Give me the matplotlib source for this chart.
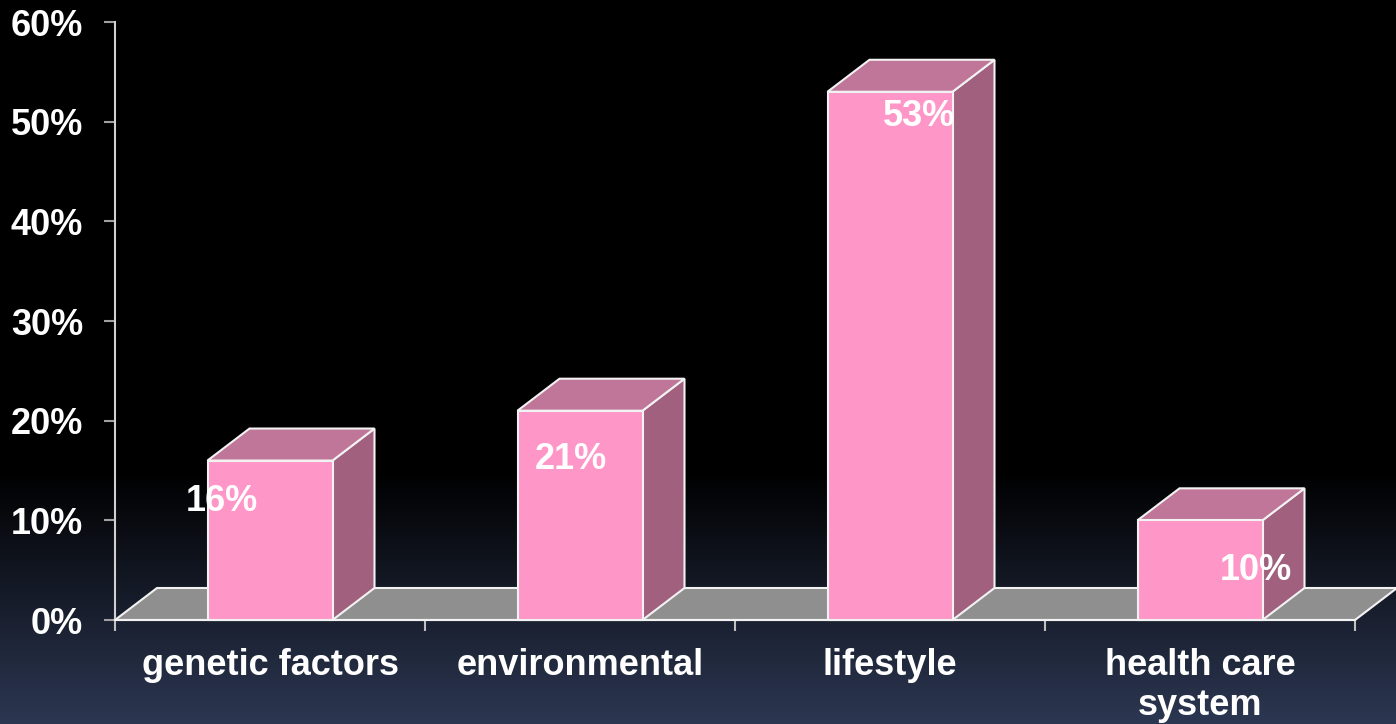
import matplotlib.pyplot as plt
from matplotlib.patches import Polygon
import numpy as np

categories = ['genetic factors', 'environmental', 'lifestyle', 'health care\nsystem']
values = [16, 21, 53, 10]
value_labels = ['16%', '21%', '53%', '10%']
yticks = [0, 10, 20, 30, 40, 50, 60]

# where the value labels sit, relative to the bar (x in category units, y in %)
label_dx = [-0.155, -0.03, 0.095, 0.18]
label_dy = [-4.1, -4.9, -2.5, -5.0]

plt.rcParams['font.family'] = ['Liberation Sans', 'DejaVu Sans']
plt.rcParams['font.weight'] = 'bold'

fig = plt.figure(figsize=(13.96, 7.24), dpi=100)

# background: black fading to dark blue at the bottom
bg = fig.add_axes([0, 0, 1, 1], zorder=-1)
grad = np.zeros((724, 1, 3))
top_col = np.array([0, 0, 0])
bot_col = np.array([44, 55, 82]) / 255
for r in range(724):
    t = max(0, (r - 470) / (724 - 470))
    grad[r, 0] = top_col + (bot_col - top_col) * t
bg.imshow(grad, aspect='auto', extent=[0, 1, 0, 1], origin='upper')
bg.axis('off')

ax = fig.add_axes([115 / 1396, 104 / 724, 1240 / 1396, 598 / 724])
ax.set_facecolor('none')
ax.set_xlim(0, 4)
ax.set_ylim(0, 60)

# depth of the 3D effect, in data units (42 px right, 32 px up)
ddx = 42 / 310
ddy = 32 / (598 / 60)
w = 125 / 310

front_col = '#ff96c8'
top_face = '#bf7699'
side_face = '#a0607e'
edge = '#f2f2f2'

floor = Polygon([(0, 0), (4, 0), (4 + ddx, ddy), (ddx, ddy)], closed=True,
                facecolor='#8f8f8f', edgecolor=edge, lw=1.5, clip_on=False, zorder=1)
ax.add_patch(floor)

for i, v in enumerate(values):
    x0 = i + 0.5 - w / 2
    x1 = x0 + w
    front = Polygon([(x0, 0), (x1, 0), (x1, v), (x0, v)], closed=True,
                    facecolor=front_col, edgecolor=edge, lw=1.5, clip_on=False, zorder=3)
    topp = Polygon([(x0, v), (x1, v), (x1 + ddx, v + ddy), (x0 + ddx, v + ddy)], closed=True,
                   facecolor=top_face, edgecolor=edge, lw=1.5, clip_on=False, zorder=2)
    side = Polygon([(x1, 0), (x1 + ddx, ddy), (x1 + ddx, v + ddy), (x1, v)], closed=True,
                   facecolor=side_face, edgecolor=edge, lw=1.5, clip_on=False, zorder=2)
    ax.add_patch(side)
    ax.add_patch(topp)
    ax.add_patch(front)
    ax.text(i + 0.5 + label_dx[i], v + label_dy[i], value_labels[i], color='white',
            fontsize=26, fontweight='bold', ha='center', va='center', zorder=5)

for s in ['top', 'right']:
    ax.spines[s].set_visible(False)
ax.spines['left'].set_color('#d0d0d0')
ax.spines['left'].set_linewidth(1.5)
ax.spines['bottom'].set_color(edge)
ax.spines['bottom'].set_linewidth(1.5)
ax.spines['bottom'].set_zorder(4)

ax.set_yticks(yticks)
ax.set_yticklabels([f'{t}%' for t in yticks])
ax.tick_params(axis='y', colors='#a0a0a0', labelcolor='white', labelsize=26,
               length=8, width=1.5, pad=15)

ax.set_xticks([0, 1, 2, 3, 4])
ax.set_xticklabels([])
ax.set_xticks([0.5, 1.5, 2.5, 3.5], minor=True)
ax.set_xticklabels(categories, minor=True)
ax.tick_params(axis='x', which='major', colors='#c0c0c0', length=8, width=1.5)
ax.tick_params(axis='x', which='minor', length=0, labelcolor='white', labelsize=26, pad=20)
for lab in ax.get_xticklabels(minor=True):
    lab.set_linespacing(1.2)

fig.savefig('out.png', dpi=100, facecolor='black')
